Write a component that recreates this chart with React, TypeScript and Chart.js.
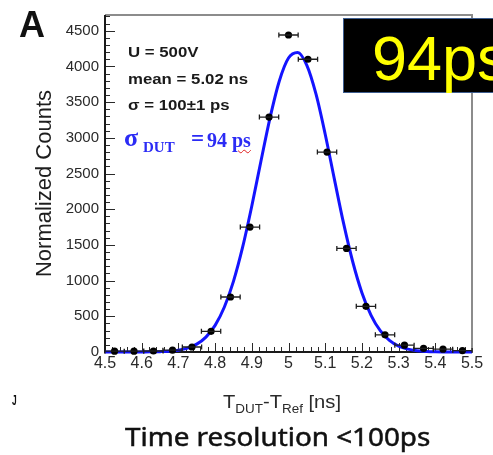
import React, { useEffect, useRef } from "react";
import { Chart, registerables } from "chart.js";

Chart.register(...registerables);

// Histogram bins (centres, ns) and normalized counts
const binCenters = [4.526, 4.579, 4.632, 4.684, 4.737, 4.789, 4.842, 4.895, 4.947, 5.0, 5.053, 5.105, 5.158, 5.211, 5.263, 5.316, 5.368, 5.421, 5.474];
const binCounts = [12, 12, 14, 25, 70, 290, 770, 1750, 3290, 4440, 4100, 2800, 1450, 640, 240, 95, 50, 40, 20];
const binHalfWidth = 0.0263;

// Gaussian fit curve
const fitX = [4.5, 4.525, 4.55, 4.575, 4.6, 4.625, 4.65, 4.675, 4.7, 4.725, 4.75, 4.775, 4.8, 4.825, 4.85, 4.875, 4.9, 4.925, 4.95, 4.975, 5.0, 5.025, 5.05, 5.075, 5.1, 5.125, 5.15, 5.175, 5.2, 5.225, 5.25, 5.275, 5.3, 5.325, 5.35, 5.375, 5.4, 5.425, 5.45, 5.475, 5.5];
const fitY = [0, 0, 0, 0, 1, 2, 5, 11, 25, 54, 110, 209, 373, 627, 990, 1468, 2045, 2675, 3287, 3796, 4117, 4195, 4015, 3611, 3050, 2421, 1804, 1264, 831, 514, 298, 163, 83, 40, 18, 8, 3, 1, 0, 0, 0];

const xTickValues = [4.5, 4.6, 4.7, 4.8, 4.9, 5.0, 5.1, 5.2, 5.3, 5.4, 5.5];
const xTickLabels = ["4.5", "4.6", "4.7", "4.8", "4.9", "5", "5.1", "5.2", "5.3", "5.4", "5.5"];
const yTickValues = [0, 500, 1000, 1500, 2000, 2500, 3000, 3500, 4000, 4500];
const yTickLabels = ["0", "500", "1000", "1500", "2000", "2500", "3000", "3500", "4000", "4500"];

const X_MIN = 4.5;
const X_MAX = 5.5;
const Y_MAX = 4720;

const SANS = '"Liberation Sans", Arial, Helvetica, sans-serif';
const SERIF = '"Liberation Serif", "Times New Roman", serif';

const frameAndTicks = {
  id: "frameAndTicks",
  beforeDatasetsDraw(chart: any) {
    const { ctx, chartArea: a, scales } = chart;
    const x = scales.x;
    const y = scales.y;
    ctx.save();
    ctx.strokeStyle = "#2a2a2a";
    ctx.lineWidth = 1;
    ctx.beginPath();
    for (let v = 0; v <= Y_MAX; v += 100) {
      const py = Math.round(y.getPixelForValue(v)) + 0.5;
      const len = v % 500 === 0 ? 10 : 5;
      ctx.moveTo(a.left, py);
      ctx.lineTo(a.left + len, py);
    }
    for (let i = 0; i <= 50; i++) {
      const v = X_MIN + i * 0.02;
      const px = Math.round(x.getPixelForValue(v)) + 0.5;
      const len = i % 5 === 0 ? 9 : 5;
      ctx.moveTo(px, a.bottom);
      ctx.lineTo(px, a.bottom - len);
    }
    ctx.stroke();
    // top & right frame (gray)
    ctx.strokeStyle = "#8c8c8c";
    ctx.lineWidth = 2;
    ctx.beginPath();
    ctx.moveTo(a.left, a.top);
    ctx.lineTo(a.right, a.top);
    ctx.lineTo(a.right, a.bottom);
    ctx.stroke();
    // left & bottom axes (dark)
    ctx.strokeStyle = "#1a1a1a";
    ctx.beginPath();
    ctx.moveTo(a.left, a.top);
    ctx.lineTo(a.left, a.bottom);
    ctx.lineTo(a.right, a.bottom);
    ctx.stroke();
    ctx.restore();
  },
  afterDatasetsDraw(chart: any) {
    const { ctx, scales } = chart;
    const x = scales.x;
    const y = scales.y;
    ctx.save();
    ctx.strokeStyle = "#1e1e1e";
    ctx.lineWidth = 1.3;
    ctx.beginPath();
    binCenters.forEach((c, i) => {
      const py = y.getPixelForValue(binCounts[i]);
      const x0 = x.getPixelForValue(c - binHalfWidth);
      const x1 = x.getPixelForValue(c + binHalfWidth);
      ctx.moveTo(x0, py);
      ctx.lineTo(x1, py);
      ctx.moveTo(x0, py - 2.5);
      ctx.lineTo(x0, py + 2.5);
      ctx.moveTo(x1, py - 2.5);
      ctx.lineTo(x1, py + 2.5);
    });
    ctx.stroke();
    ctx.restore();
  },
};

const abs = (o: React.CSSProperties): React.CSSProperties => ({
  position: "absolute",
  whiteSpace: "nowrap",
  lineHeight: 1,
  margin: 0,
  ...o,
});

export default function App() {
  const canvasRef = useRef<HTMLCanvasElement | null>(null);

  useEffect(() => {
    const canvas = canvasRef.current;
    if (!canvas) return;
    const chart = new Chart(canvas, {
      type: "scatter",
      data: {
        datasets: [
          {
            type: "scatter",
            label: "data",
            data: binCenters.map((c, i) => ({ x: c, y: binCounts[i] })),
            pointRadius: 3.6,
            pointBackgroundColor: "#000",
            pointBorderWidth: 0,
            clip: false,
          } as any,
          {
            type: "line",
            label: "fit",
            data: fitX.map((v, i) => ({ x: v, y: fitY[i] })),
            borderColor: "#1414ff",
            borderWidth: 3,
            pointRadius: 0,
            fill: false,
            cubicInterpolationMode: "monotone",
            clip: false,
          } as any,
        ],
      },
      options: {
        responsive: false,
        animation: false,
        devicePixelRatio: 1,
        events: [],
        layout: { padding: { left: 0, top: 12, right: 21, bottom: 0 } },
        plugins: { legend: { display: false }, tooltip: { enabled: false } },
        scales: {
          x: {
            type: "linear",
            min: X_MIN,
            max: X_MAX,
            grid: { display: false, drawTicks: false },
            border: { display: false },
            afterBuildTicks: (s: any) => {
              s.ticks = xTickValues.map((v) => ({ value: v }));
            },
            afterFit: (s: any) => {
              s.height = 103;
            },
            ticks: {
              autoSkip: false,
              maxRotation: 0,
              padding: 2,
              color: "#2a2a2a",
              font: { family: SANS, size: 16 },
              callback: (_v: any, i: number) => xTickLabels[i],
            },
          },
          y: {
            type: "linear",
            min: 0,
            max: Y_MAX,
            grid: { display: false, drawTicks: false },
            border: { display: false },
            afterBuildTicks: (s: any) => {
              s.ticks = yTickValues.map((v) => ({ value: v }));
            },
            afterFit: (s: any) => {
              s.width = 105;
            },
            ticks: {
              autoSkip: false,
              padding: 6,
              color: "#2a2a2a",
              font: { family: SANS, size: 15 },
              callback: (_v: any, i: number) => yTickLabels[i],
            },
            title: {
              display: true,
              text: "Normalized Counts",
              color: "#1e1e1e",
              font: { family: SANS, size: 22 },
              padding: { top: 32, bottom: 0 },
            },
          },
        },
      } as any,
      plugins: [frameAndTicks],
    });
    return () => chart.destroy();
  }, []);

  const ann: React.CSSProperties = {
    left: 128,
    fontFamily: SANS,
    fontWeight: "bold",
    fontSize: 15,
    color: "#1a1a1a",
    transform: "scaleX(1.12)",
    transformOrigin: "left top",
  };
  const blue = "#2b2bf5";

  return (
    <div
      style={{
        position: "fixed",
        left: 0,
        top: 0,
        width: 493,
        height: 455,
        overflow: "hidden",
        background: "#fff",
      }}
    >
      <canvas
        ref={canvasRef}
        width={493}
        height={455}
        style={{ position: "absolute", left: 0, top: 0, width: 493, height: 455 }}
      />
      <div style={abs({ left: 19, top: 7, fontFamily: SANS, fontWeight: "bold", fontSize: 36, color: "#111" })}>A</div>
      <div style={abs({ ...ann, top: 44 })}>U = 500V</div>
      <div style={abs({ ...ann, top: 71 })}>mean = 5.02 ns</div>
      <div style={abs({ ...ann, top: 97 })}>σ = 100±1 ps</div>

      <div style={abs({ left: 124, top: 125, fontFamily: SERIF, fontWeight: "bold", fontSize: 26, color: blue })}>σ</div>
      <div style={abs({ left: 143, top: 140, fontFamily: SERIF, fontWeight: "bold", fontSize: 15, color: blue })}>DUT</div>
      <div style={abs({ left: 191, top: 127, fontFamily: SERIF, fontWeight: "bold", fontSize: 23, color: blue })}>=</div>
      <div style={abs({ left: 207, top: 130, fontFamily: SERIF, fontWeight: "bold", fontSize: 20, color: blue })}>
        94{" "}
        <span
          style={{
            textDecorationLine: "underline",
            textDecorationStyle: "wavy",
            textDecorationColor: "#e02020",
            textDecorationThickness: "1px",
            textUnderlineOffset: "2px",
          }}
        >
          ps
        </span>
      </div>

      <div
        style={{
          position: "absolute",
          left: 343,
          top: 18,
          width: 170,
          height: 75,
          background: "#000",
          border: "1.5px solid #3d5d8f",
          boxSizing: "border-box",
        }}
      />
      <div
        style={abs({
          left: 372,
          top: 27,
          fontFamily: '"Liberation Sans Narrow", "Liberation Sans", sans-serif',
          fontSize: 63,
          color: "#ffff00",
        })}
      >
        94ps
      </div>

      <div
        style={abs({
          left: 223,
          top: 393,
          fontFamily: SANS,
          fontSize: 18,
          color: "#2a2a2a",
          transform: "scaleX(1.12)",
          transformOrigin: "left top",
        })}
      >
        T<span style={{ fontSize: 12, position: "relative", top: 5 }}>DUT</span>-T
        <span style={{ fontSize: 12, position: "relative", top: 5 }}>Ref</span> [ns]
      </div>

      <div style={abs({ left: 12, top: 393, fontFamily: SANS, fontWeight: "bold", fontSize: 14, color: "#111", transform: "scaleX(0.6)", transformOrigin: "left top" })}>J</div>

      <div
        style={abs({
          left: 125,
          top: 423,
          fontFamily: '"Noto Sans", sans-serif',
          fontSize: 26,
          color: "#111",
          WebkitTextStroke: "0.5px #111",
          transform: "scaleX(1.07)",
          transformOrigin: "left top",
        })}
      >
        Time resolution &lt;100ps
      </div>
    </div>
  );
}
